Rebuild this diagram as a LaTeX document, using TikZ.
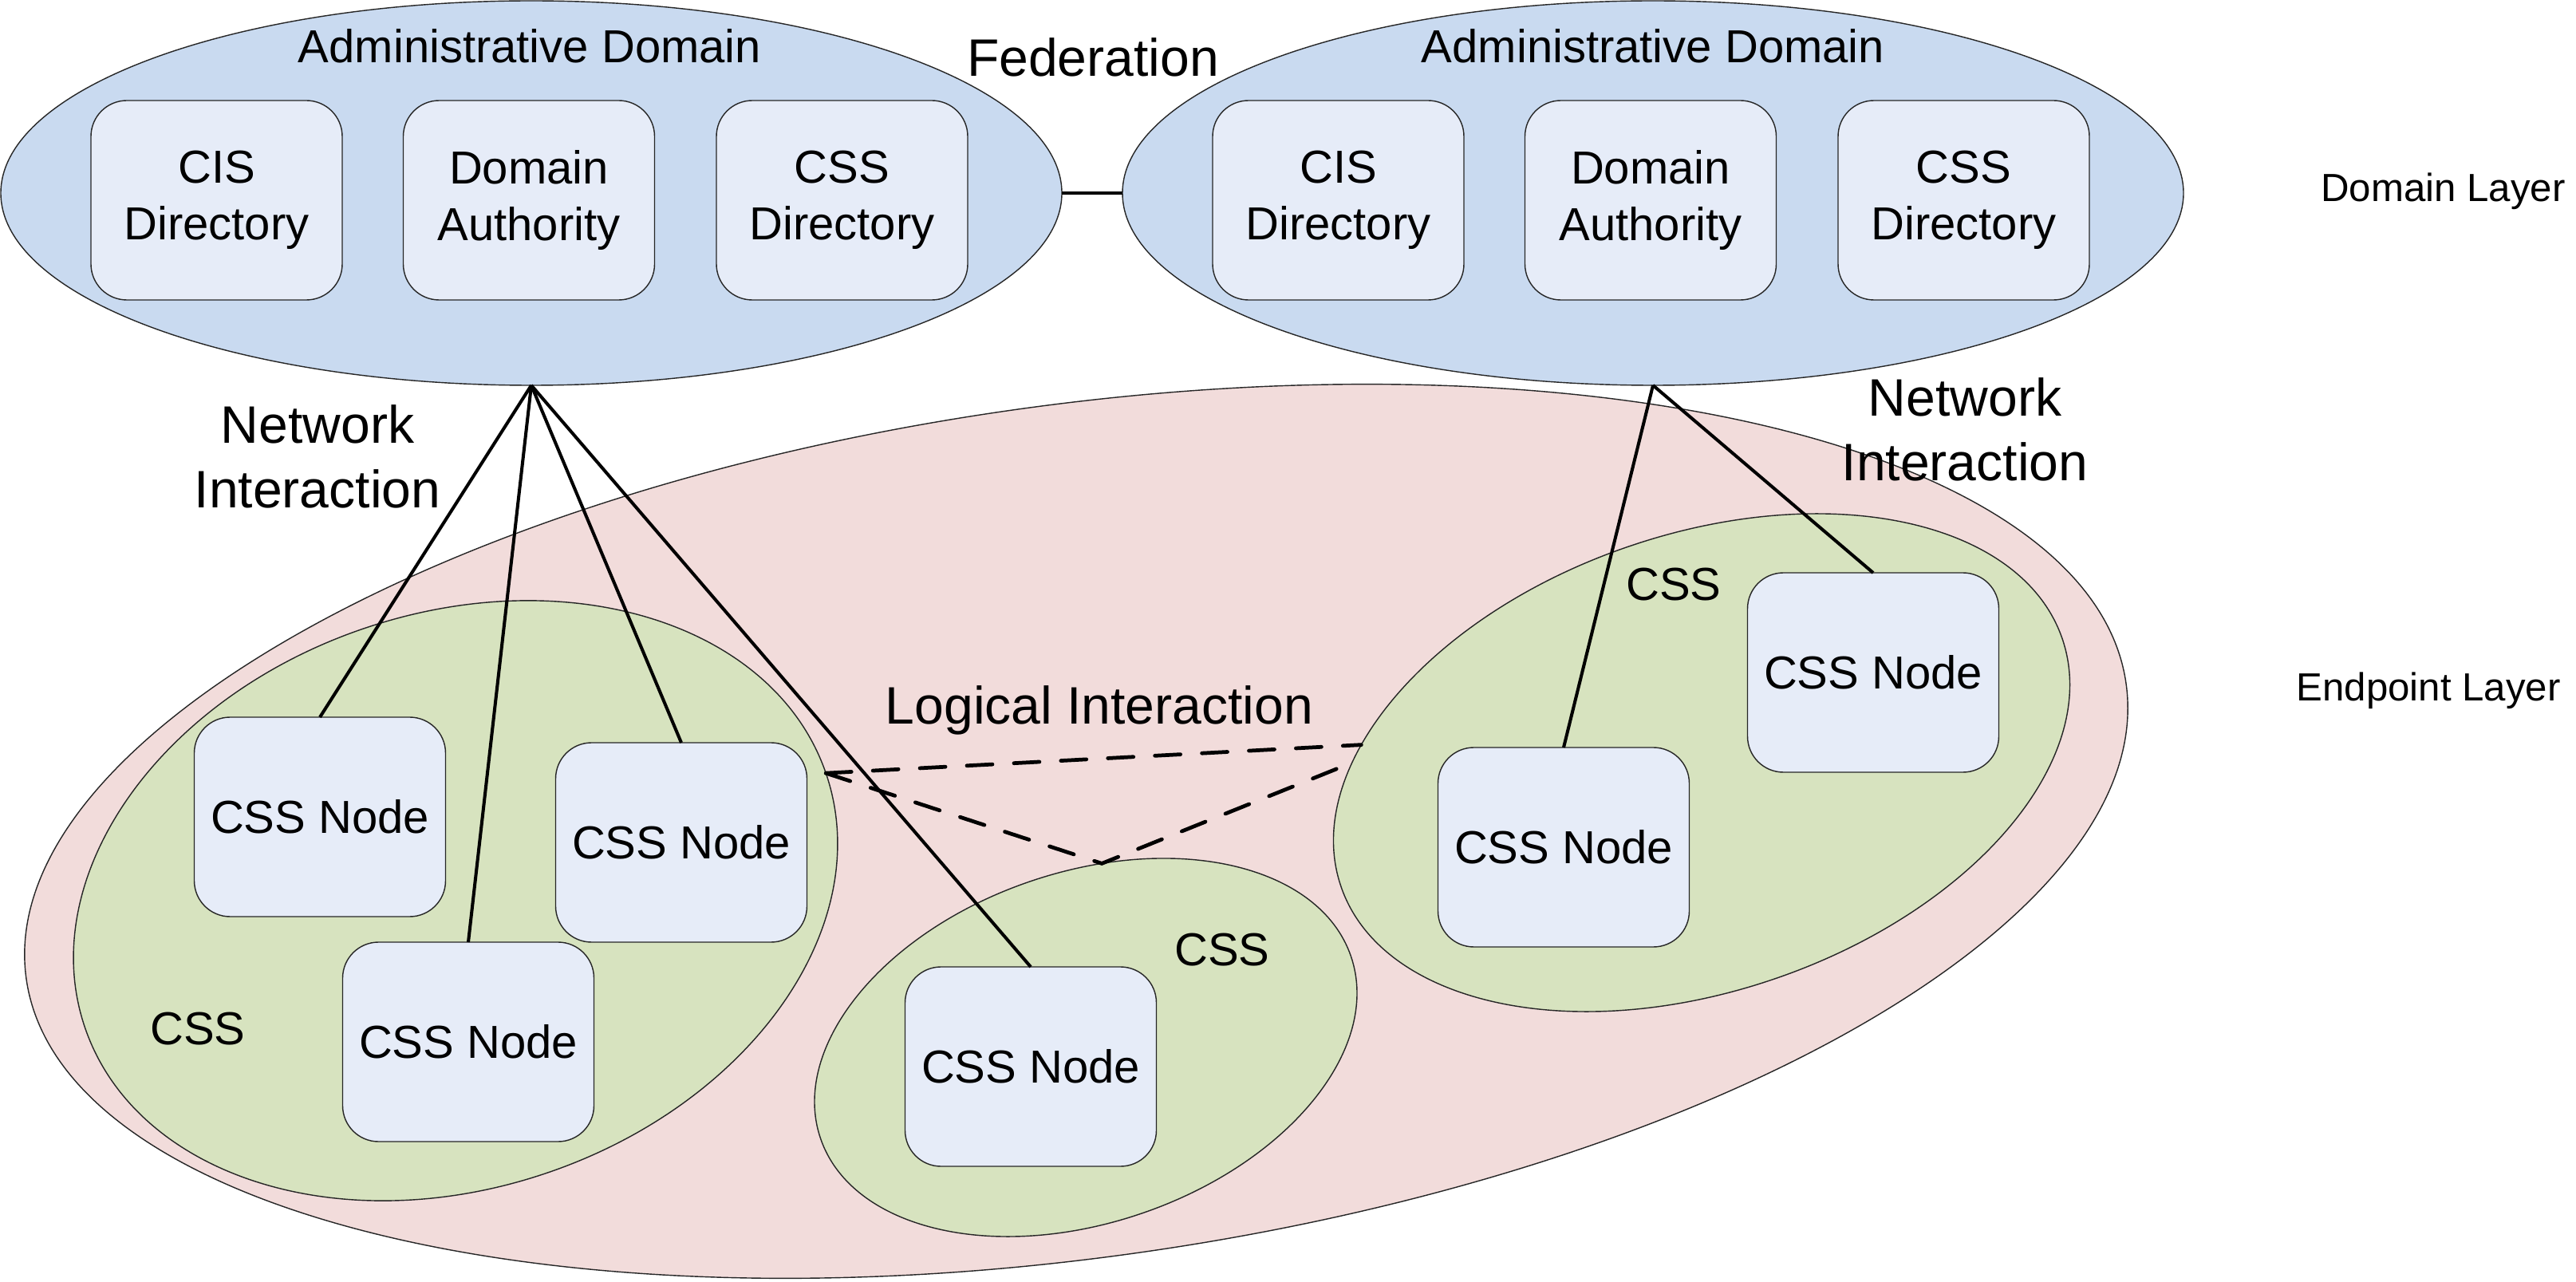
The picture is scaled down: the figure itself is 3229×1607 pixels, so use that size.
\documentclass[tikz,border=0pt]{standalone}
\usepackage{fontspec}
\setmainfont{Liberation Sans}
\usepackage{tikz}
\usetikzlibrary{shapes.geometric}
\definecolor{DomBlue}{HTML}{C9DAF0}
\definecolor{EndPink}{HTML}{F2DCDB}
\definecolor{CssGreen}{HTML}{D7E3BF}
\definecolor{BoxBlue}{HTML}{E6ECF8}
\tikzset{
  admzone/.style={ellipse,draw=black!85,fill=DomBlue,line width=0.4pt,minimum width=133mm,minimum height=48.2mm,inner sep=0pt,outer sep=0pt},
  zone/.style={ellipse,draw=black!85,line width=0.4pt,inner sep=0pt,outer sep=0pt},
  svcbox/.style={draw=black!85,fill=BoxBlue,line width=0.4pt,rounded corners=4.5mm,minimum width=31.5mm,minimum height=25mm,inner sep=0pt,outer sep=0pt,align=center,font=\fontsize{16.5}{20.2}\selectfont},
  bigtxt/.style={align=center,font=\fontsize{18.8}{23}\selectfont},
  midtxt/.style={font=\fontsize{16.5}{20}\selectfont},
  layertxt/.style={anchor=east,font=\fontsize{14}{17}\selectfont},
  netline/.style={line width=1.15pt},
  logline/.style={line width=1.35pt,line cap=round,dash pattern=on 3.2mm off 2.7mm},
}
\begin{document}
\begin{tikzpicture}[x=0.1mm,y=-0.1mm]
\useasboundingbox (0,0) rectangle (3229,1607);
% endpoint layer
\node[zone,fill=EndPink,minimum width=265.8mm,minimum height=106.8mm,rotate=8] (endpt) at (1349,1042) {};
\node[zone,fill=CssGreen,minimum width=98.2mm,minimum height=72mm,rotate=19] (cssL) at (571,1129) {};
\node[zone,fill=CssGreen,minimum width=70.3mm,minimum height=43.9mm,rotate=19] (cssM) at (1361,1313) {};
\node[zone,fill=CssGreen,minimum width=95.6mm,minimum height=57.2mm,rotate=19] (cssR) at (2133,956) {};
% domain layer
\node[admzone] (domL) at (666,242) {};
\node[admzone] (domR) at (2072,242) {};
\node[midtxt] (admL) at (664,58) {Administrative Domain};
\node[midtxt] (admR) at (2072,58) {Administrative Domain};
\node[svcbox] (cisL) at (271.5,251) {CIS\\Directory};
\node[svcbox] (authL) at (663,251) {Domain\\Authority};
\node[svcbox] (dirL) at (1055.5,251) {CSS\\Directory};
\node[svcbox] (cisR) at (1677.5,251) {CIS\\Directory};
\node[svcbox] (authR) at (2069,251) {Domain\\Authority};
\node[svcbox] (dirR) at (2461.5,251) {CSS\\Directory};
\draw[line width=1.2pt] (domL.east) -- (domR.west);
% css nodes
\node[svcbox] (nodeA) at (401,1024) {CSS Node};
\node[svcbox] (nodeB) at (587,1306) {CSS Node};
\node[svcbox] (nodeC) at (854,1056) {CSS Node};
\node[svcbox] (nodeD) at (1292,1337) {CSS Node};
\node[svcbox] (nodeE) at (1960,1062) {CSS Node};
\node[svcbox] (nodeF) at (2348,843) {CSS Node};
% network interaction
\draw[netline] (domL.south) -- (nodeA.north);
\draw[netline] (domL.south) -- (nodeB.north);
\draw[netline] (domL.south) -- (nodeC.north);
\draw[netline] (domL.south) -- (nodeD.north);
\draw[netline] (domR.south) -- (nodeE.north);
\draw[netline] (domR.south) -- (nodeF.north);
% logical interaction
\draw[logline] (cssL.east) -- (cssR.158);
\draw[logline] (cssL.east) -- (cssM.66) -- (cssR.161);
% labels
\node[bigtxt] (fed) at (1370,72) {Federation};
\node[bigtxt] (netL) at (398,572) {Network\\Interaction};
\node[bigtxt] (netR) at (2463,538) {Network\\Interaction};
\node[bigtxt] (logi) at (1378,890) {Logical Interaction};
\node[midtxt] (lblL) at (248,1290) {CSS};
\node[midtxt] (lblM) at (1532,1191) {CSS};
\node[midtxt] (lblR) at (2098,733) {CSS};
\node[layertxt] (domlayer) at (3228,240) {Domain Layer};
\node[layertxt] (endlayer) at (3222,866) {Endpoint Layer};
\end{tikzpicture}
\end{document}
